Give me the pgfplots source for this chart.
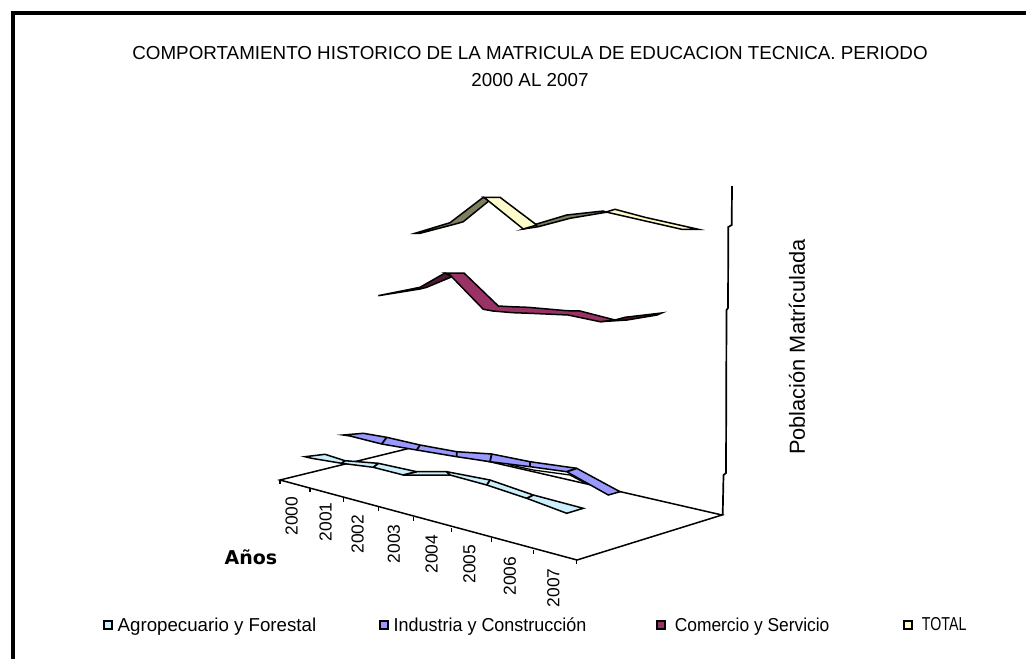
\documentclass[border=0pt]{standalone}
\usepackage{pgfplots}
\pgfplotsset{compat=1.18}
\usepackage{fontspec}
\usepackage{graphicx}
\setmainfont{Liberation Sans}
\newfontfamily\lab{DejaVu Sans}
\newcommand{\yr}{\fontsize{17.4}{18}\selectfont}
\begin{document}
\begin{tikzpicture}
\begin{axis}[
  width=1026pt,height=659pt,scale only axis,
  xmin=0,xmax=1026,ymin=0,ymax=659,y dir=reverse,
  axis line style={draw=none},xtick=\empty,ytick=\empty,
  clip=true,unbounded coords=jump,
  title={COMPORTAMIENTO HISTORICO DE LA MATRICULA DE EDUCACION TECNICA. PERIODO\\2000 AL 2007},
  title style={at={(axis cs:530,73)},anchor=center,align=center,font=\fontsize{18.8}{27}\selectfont},
  xlabel={Años},
  xlabel style={at={(axis cs:251,557)},anchor=center,font=\lab\bfseries\fontsize{19}{20}\selectfont},
  ylabel={Población Matrículada},
  ylabel style={at={(axis cs:797,347)},anchor=center,rotate=0,font=\fontsize{21.8}{24}\selectfont},
  legend style={draw=none,fill=none,at={(axis cs:103,625)},anchor=west,font=\fontsize{18.7}{20}\selectfont,
    inner sep=0pt,
    /tikz/column 2/.style={column sep=61pt},
    /tikz/column 4/.style={column sep=68pt},
    /tikz/column 6/.style={column sep=72pt}},
  legend columns=4,
  legend image code/.code={\draw[#1,line width=1.5pt,draw=black] (0pt,-4pt) rectangle (8pt,4pt);\path (11pt,0pt);},
]
% frame
\addplot[forget plot,black,line width=4pt] coordinates {(13,659)(13,13)(1026,13)};
% floor
\addplot[forget plot,black,line width=1.5pt,fill=white] coordinates {(280,480)(577,560)(722,515)(420,445.7)} -- cycle;
% floor ticks
\addplot[forget plot,black,line width=1.4pt] coordinates {
 (280,480)(280,484)(nan,nan)(310,488.3)(310,492)(nan,nan)(343.3,498.3)(343.3,502)(nan,nan)
 (378.3,507.3)(378.3,511)(nan,nan)(413.3,517.3)(413.3,521)(nan,nan)(451.7,528.3)(451.7,532)(nan,nan)
 (491.7,538.3)(491.7,542)(nan,nan)(533.3,550)(533.3,554)(nan,nan)(576.7,560)(576.7,564)};
% wall line
\addplot[forget plot,black,line width=1.7pt] coordinates {(732,186)(731.7,225)(728.3,227)(728,308)(726.5,310)(726,473)(723.5,475)(722.7,515)};
% Agropecuario
\addplot[black,line width=1.5pt,fill=cyan!20] coordinates {
 (305,456.7)(325,454.3)(345,460.7)(378.3,463.3)(416.7,471.7)(446.7,471.7)(490,480)(533.3,495)(583.3,508.3)
 (566.7,513.3)(526.7,498.3)(486.7,485)(450,475)(403.3,475)(373.3,467.3)(341.7,463.3)(311.7,458.3)} -- cycle;
\addlegendentry{Agropecuario y Forestal}
\addplot[forget plot,black,line width=1.8pt] coordinates {
 (345,460.7)(341.7,463.3)(nan,nan)(378.3,463.3)(373.3,467.3)(nan,nan)(416.7,471.7)(403.3,475)(nan,nan)
 (446.7,471.7)(450,475)(nan,nan)(490,480)(486.7,485)(nan,nan)(533.3,495)(526.7,498.3)};
% thin line below Industria
\addplot[forget plot,black,line width=1.3pt] coordinates {(510,465)(533.3,470)(570,475)(585,483)};
% Industria
\addplot[black,line width=1.5pt,fill=blue!40] coordinates {
 (343.3,435)(363.3,433.3)(386.7,437.3)(420,445)(456.7,451.7)(491.7,454)(530,461.7)(576.7,468.3)(620,491.7)
 (608.3,495)(566.7,471.7)(530,466.7)(490,461.7)(456.7,456.7)(416.7,450)(381.7,444)(350,436)} -- cycle;
\addlegendentry{\scalebox{0.96}[1]{Industria y Construcción}}
\addplot[forget plot,black,line width=1.8pt] coordinates {
 (386.7,437.3)(381.7,444)(nan,nan)(420,445)(416.7,450)(nan,nan)(456.7,451.7)(456.7,456.7)(nan,nan)
 (491.7,454)(490,461.7)(nan,nan)(530,461.7)(530,466.7)(nan,nan)(576.7,468.3)(566.7,471.7)};
% Comercio
\addplot[forget plot,black,line width=1.5pt,fill={rgb,255:red,77;green,25;blue,51}] coordinates {
 (378.3,295.7)(420,287.3)(445,273)(452,276.7)(426.7,287.3)(420,289)} -- cycle;
\addplot[forget plot,black,line width=1.5pt,fill={rgb,255:red,77;green,25;blue,51}] coordinates {
 (600,321.7)(615,320)(625,317.3)(661.7,313)(657,315)(627,320)} -- cycle;
\addplot[black,line width=1.5pt,fill={rgb,255:red,153;green,51;blue,102}] coordinates {
 (445,273)(464,273)(498.3,306)(511,306.7)(528,307.3)(566.7,310.7)(580,311)(615,320)(600,321.7)(568,315)(530,313.3)(513,312.7)(493,311)(483.3,309.3)(450,275)} -- cycle;
\addlegendentry{\hspace{4pt}\scalebox{0.93}[1]{Comercio y Servicio}}
% Total
\addplot[forget plot,black,line width=1.5pt,fill={rgb,255:red,127;green,127;blue,95}] coordinates {
 (415,233.3)(450,222.7)(483.3,197.3)(490,200)(463.3,221.7)(458,223.3)(420,233.3)} -- cycle;
\addplot[forget plot,black,line width=1.5pt,fill={rgb,255:red,127;green,127;blue,95}] coordinates {
 (523.3,229)(536.7,224)(566.7,215)(603.3,211)(606,212.3)(570,218.3)(538.3,226.7)} -- cycle;
\addplot[forget plot,black,line width=1.5pt,fill=yellow!20] coordinates {
 (606,212)(615,209.3)(645,217.3)(698.3,229.3)(681.7,229.3)(646.7,221.3)} -- cycle;
\addplot[black,line width=1.5pt,fill=yellow!20] coordinates {
 (483.3,197.3)(500,197.3)(536.7,225)(523.3,229)(486.7,199.5)} -- cycle;
\addlegendentry{\hspace{4pt}\scalebox{0.76}[1]{TOTAL}\vphantom{y}}
% years
\node[rotate=90,font=\yr] at (axis cs:291.7,516) {2000};
\node[rotate=90,font=\yr] at (axis cs:325.7,521.7) {2001};
\node[rotate=90,font=\yr] at (axis cs:357.7,534.3) {2002};
\node[rotate=90,font=\yr] at (axis cs:394,543.7) {2003};
\node[rotate=90,font=\yr] at (axis cs:431.7,554.3) {2004};
\node[rotate=90,font=\yr] at (axis cs:469.3,564.3) {2005};
\node[rotate=90,font=\yr] at (axis cs:510,576) {2006};
\node[rotate=90,font=\yr] at (axis cs:553.3,587.7) {2007};
\end{axis}
\end{tikzpicture}
\end{document}
